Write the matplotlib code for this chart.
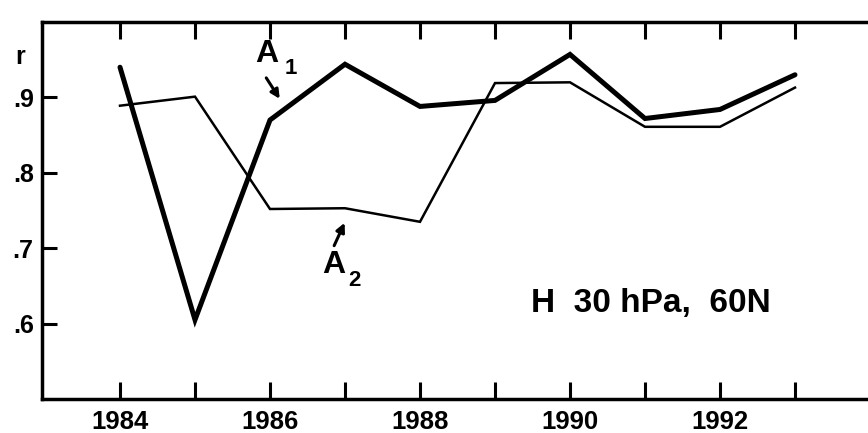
import matplotlib
matplotlib.use("Agg")
import matplotlib.pyplot as plt

years = [1984, 1985, 1986, 1987, 1988, 1989, 1990, 1991, 1992, 1993]
a1 = [0.940, 0.605, 0.870, 0.944, 0.888, 0.896, 0.957, 0.872, 0.884, 0.930]
a2 = [0.889, 0.901, 0.752, 0.753, 0.735, 0.919, 0.920, 0.861, 0.861, 0.913]
xtick_labels = ["1984", "", "1986", "", "1988", "", "1990", "", "1992", ""]
ytick_vals = [0.6, 0.7, 0.8, 0.9]
ytick_labels = [".6", ".7", ".8", ".9"]

plt.rcParams['font.family'] = ['Liberation Sans', 'DejaVu Sans']

W, H = 868, 433
fig = plt.figure(figsize=(W / 100, H / 100), dpi=100)
x0, x1 = 42, 885
yb, yt = 399, 22
ax = fig.add_axes([x0 / W, (H - yb) / H, (x1 - x0) / W, (yb - yt) / H])

ax.plot(years, a1, color='black', lw=3.6, solid_joinstyle='miter', solid_capstyle='round')
ax.plot(years, a2, color='black', lw=1.8, solid_joinstyle='miter')

ax.set_xlim(1982.96, 1994.2)
ax.set_ylim(0.5, 1.0)

for s in ax.spines.values():
    s.set_linewidth(2.5)

ax.set_xticks(years)
ax.set_xticklabels(xtick_labels, fontsize=18.5, fontweight='bold')
ax.set_yticks(ytick_vals)
ax.set_yticklabels(ytick_labels, fontsize=18, fontweight='bold')
ax.tick_params(axis='x', direction='in', length=12, width=2.2, top=True, pad=8)
ax.tick_params(axis='y', direction='in', length=11, width=2.2, right=True, pad=6)

fig.text(20 / W, 1 - 57 / H, "r", fontsize=18, fontweight='bold', ha='center', va='center')

# A1 label and arrow
ax.annotate("", xy=(1986.15, 0.895), xytext=(1985.93, 0.929),
            arrowprops=dict(arrowstyle='-|>', color='black', lw=2.2, mutation_scale=13))
ax.text(1985.80, 0.957, "A", fontsize=23, fontweight='bold', ha='left', va='center')
ax.text(1986.19, 0.938, "1", fontsize=16, fontweight='bold', ha='left', va='center')

# A2 label and arrow
ax.annotate("", xy=(1987.01, 0.737), xytext=(1986.84, 0.700),
            arrowprops=dict(arrowstyle='-|>', color='black', lw=2.2, mutation_scale=13))
ax.text(1986.69, 0.678, "A", fontsize=23, fontweight='bold', ha='left', va='center')
ax.text(1987.04, 0.657, "2", fontsize=16, fontweight='bold', ha='left', va='center')

ax.text(1989.48, 0.627, "H  30 hPa,  60N", fontsize=24, fontweight='bold', ha='left', va='center')

fig.savefig("out.png", dpi=100)
